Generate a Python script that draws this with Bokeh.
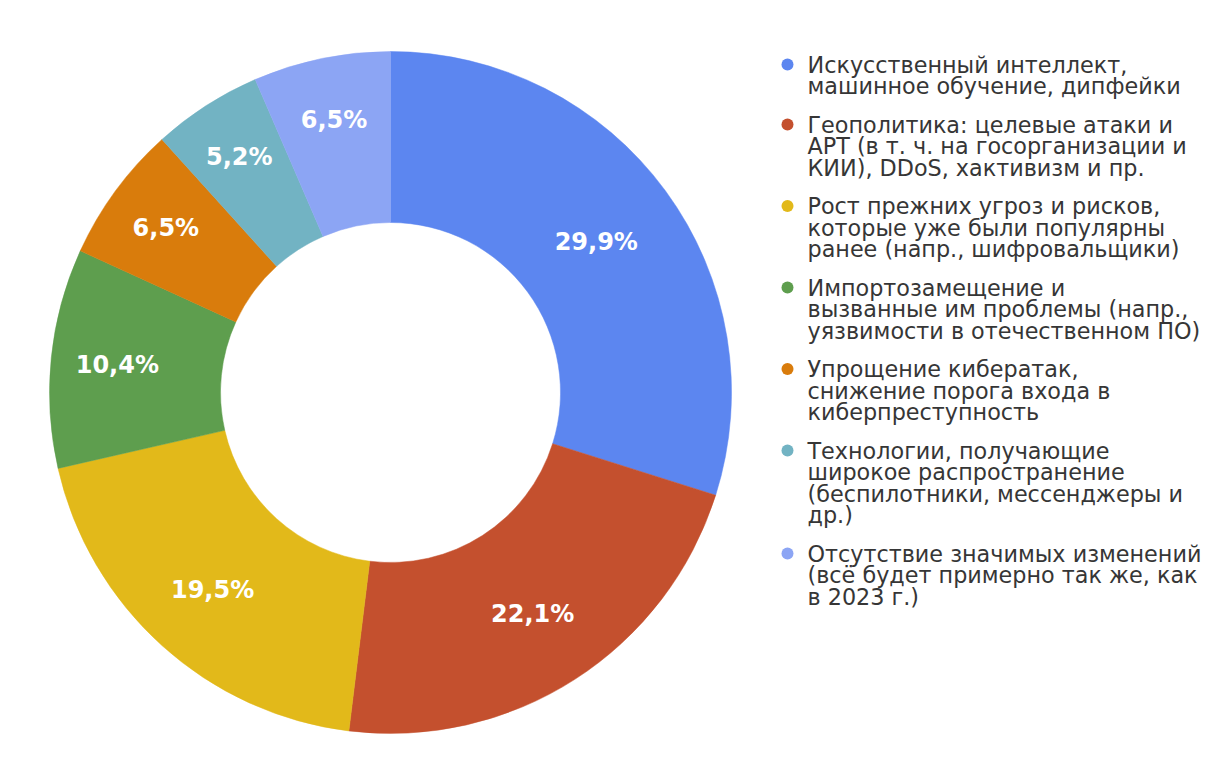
import math
from bokeh.plotting import figure
from bokeh.models import Range1d, ColumnDataSource
from bokeh.core.properties import value
from bokeh.embed import file_html
from bokeh.resources import INLINE

# ---- data ----
categories = [
    "Искусственный интеллект,\nмашинное обучение, дипфейки",
    "Геополитика: целевые атаки и\nAPT (в т. ч. на госорганизации и\nКИИ), DDoS, хактивизм и пр.",
    "Рост прежних угроз и рисков,\nкоторые уже были популярны\nранее (напр., шифровальщики)",
    "Импортозамещение и\nвызванные им проблемы (напр.,\nуязвимости в отечественном ПО)",
    "Упрощение кибератак,\nснижение порога входа в\nкиберпреступность",
    "Технологии, получающие\nширокое распространение\n(беспилотники, мессенджеры и\nдр.)",
    "Отсутствие значимых изменений\n(всё будет примерно так же, как\nв 2023 г.)",
]
shares = [29.9, 22.1, 19.5, 10.4, 6.5, 5.2, 6.5]
share_labels = ["29,9%", "22,1%", "19,5%", "10,4%", "6,5%", "5,2%", "6,5%"]
colors = ["#5c86f0", "#c4502e", "#e2b91a", "#5e9e4e", "#d97c0c", "#72b3c3", "#8ca5f4"]

# ---- layout ----
W, H = 1208, 748
cx, cy = 390, H - 392
R_out, R_in = 341, 170

p = figure(width=W, height=H, x_range=Range1d(0, W), y_range=Range1d(0, H),
           output_backend="svg", toolbar_location=None, min_border=0,
           outline_line_color=None, background_fill_color="white",
           border_fill_color="white")
p.axis.visible = False
p.grid.visible = False

total = sum(shares)
starts, ends, lx, ly = [], [], [], []
cum = 0.0
for v in shares:
    a0 = math.pi / 2 - 2 * math.pi * cum / total
    a1 = math.pi / 2 - 2 * math.pi * (cum + v) / total
    mid = math.pi / 2 - 2 * math.pi * (cum + v / 2) / total
    r_lab = 285 - v  # small slices carry their label a little further out
    starts.append(a0)
    ends.append(a1)
    lx.append(cx + r_lab * math.cos(mid))
    ly.append(cy + r_lab * math.sin(mid))
    cum += v

src = ColumnDataSource(dict(start=starts, end=ends, color=colors, lx=lx, ly=ly, lab=share_labels))
p.annular_wedge(x=cx, y=cy, inner_radius=R_in, outer_radius=R_out,
                start_angle="start", end_angle="end", direction="clock",
                fill_color="color", line_color="color", line_width=0.5, source=src)
p.text(x="lx", y="ly", text="lab", source=src, text_color="white",
       text_font=value("DejaVu Sans"), text_font_style="bold",
       text_font_size="24px", text_align="center", text_baseline="middle")

# ---- legend ----
dot_x, text_x = 787, 807
line_step, item_gap = 21.5, 38.5
y_top = 64.0
dx, dy, dc, tx, ty, tt = [], [], [], [], [], []
for cat, col in zip(categories, colors):
    lines = cat.split("\n")
    dx.append(dot_x)
    dy.append(H - y_top)
    dc.append(col)
    for i, ln in enumerate(lines):
        tx.append(text_x)
        ty.append(H - (y_top + i * line_step))
        tt.append(ln)
    y_top += (len(lines) - 1) * line_step + item_gap

p.scatter(x=dx, y=dy, size=12, fill_color=dc, line_color=None)
p.text(x=tx, y=ty, text=tt, text_color="#363636", text_font=value("DejaVu Sans"),
       text_font_size="22.3px", text_align="left", text_baseline="middle")

open("out.html", "w").write(file_html(p, INLINE))
